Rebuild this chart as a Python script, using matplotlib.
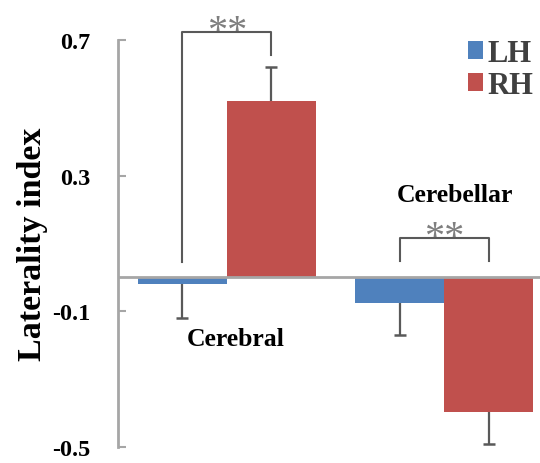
import matplotlib.pyplot as plt
import numpy as np

regions = ["Cerebral", "Cerebellar"]
hemispheres = ["LH", "RH"]
lh_values = [-0.02, -0.075]
rh_values = [0.52, -0.395]
lh_err = [0.10, 0.095]
rh_err = [0.10, 0.095]
y_ticks = [-0.5, -0.1, 0.3, 0.7]
y_tick_labels = ["-0.5", "-0.1", "0.3", "0.7"]

BLUE = "#4F81BD"
RED = "#C0504D"
GRAY = "#A6A6A6"
DARK = "#595959"
FONT = "Liberation Serif"


def one_sided_err(ax, xs, values, errs):
    # error bars only extend away from zero, with a single cap at the tip
    for xi, v, e in zip(xs, values, errs):
        tip = v + e if v >= 0 else v - e
        ax.vlines(xi, v, tip, color=DARK, lw=1.6, zorder=3)
        ax.plot([xi], [tip], marker="_", ms=8, mew=1.8, color=DARK, zorder=3)


def bracket(ax, x1, x2, y_top, y1_low, y2_low, text_y):
    ax.plot([x1, x1, x2, x2], [y1_low, y_top, y_top, y2_low],
            color=DARK, lw=1.5, clip_on=False)
    ax.text((x1 + x2) / 2, text_y, "**", ha="center", va="center",
            fontsize=29, color="#7F7F7F", family=FONT, clip_on=False)


def main():
    plt.rcParams["font.family"] = FONT
    fig = plt.figure(figsize=(5.4, 4.64), dpi=100)
    ax = fig.add_axes([0.2185, 0.034, 0.7815, 0.878])

    x = np.arange(len(regions))
    w = 0.41
    ax.bar(x - w / 2, lh_values, w, color=BLUE, label=hemispheres[0], zorder=2)
    ax.bar(x + w / 2, rh_values, w, color=RED, label=hemispheres[1], zorder=2)
    one_sided_err(ax, x - w / 2, lh_values, lh_err)
    one_sided_err(ax, x + w / 2, rh_values, rh_err)

    ax.axhline(0, color=GRAY, lw=2, zorder=3)

    ax.set_xlim(-0.5, 1.44)
    ax.set_ylim(-0.5, 0.7)
    ax.set_yticks(y_ticks)
    ax.set_yticklabels(y_tick_labels, fontsize=17.5, fontweight="bold")
    ax.tick_params(axis="y", direction="in", length=6, width=1.5,
                   color=GRAY, pad=20)
    ax.set_xticks([])
    for side in ["top", "right", "bottom"]:
        ax.spines[side].set_visible(False)
    ax.spines["left"].set_color(GRAY)
    ax.spines["left"].set_linewidth(2)

    ax.set_ylabel("Laterality index", fontsize=24.5, fontweight="bold",
                  labelpad=3)

    # significance brackets
    bracket(ax, x[0] - w / 2, x[0] + w / 2, 0.724, 0.045, 0.655, 0.725)
    bracket(ax, x[1] - w / 2, x[1] + w / 2, 0.117, 0.048, 0.048, 0.118)

    ax.text(x[0] + 0.04, -0.18, regions[0], ha="center", va="center",
            fontsize=18.5, fontweight="bold")
    ax.text(x[1] + 0.05, 0.243, regions[1], ha="center", va="center",
            fontsize=18.5, fontweight="bold")

    leg = ax.legend(loc="upper right", bbox_to_anchor=(1.05, 1.07),
                    frameon=False, handlelength=0.5, handleheight=0.5,
                    handletextpad=0.15, labelspacing=0.1,
                    prop=dict(family=FONT, size=22, weight="bold"))
    for t in leg.get_texts():
        t.set_color("#404040")

    fig.savefig("out.png", dpi=100)
    plt.close(fig)


if __name__ == "__main__":
    main()
